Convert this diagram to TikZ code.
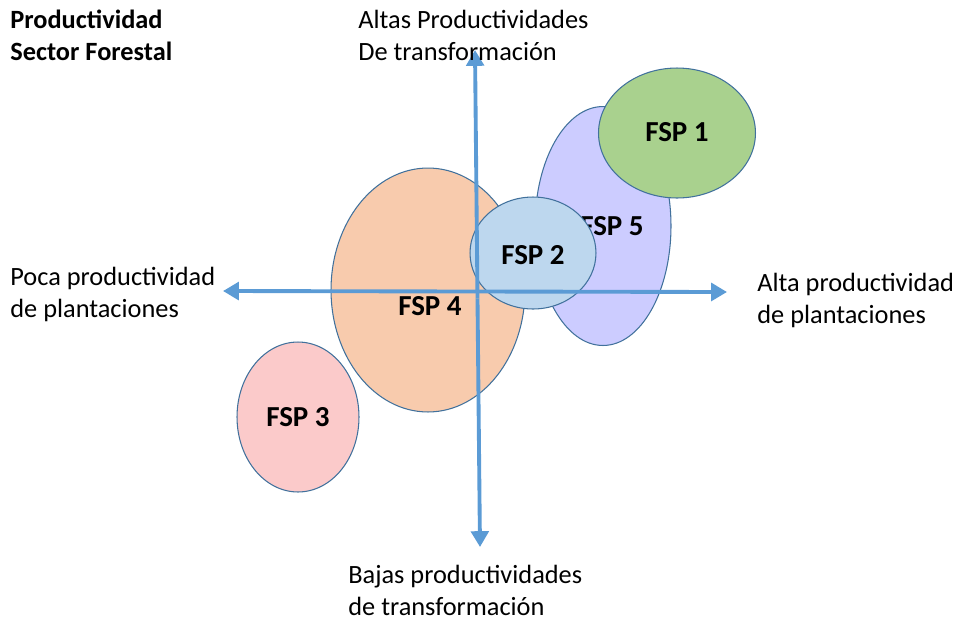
\documentclass[tikz,border=0pt]{standalone}
\usepackage{fontspec}
\setmainfont{Carlito}
\usetikzlibrary{shapes.geometric,arrows.meta}

\definecolor{axisblue}{HTML}{5B9BD5}
\definecolor{rimblue}{HTML}{41719C}
\definecolor{fspgreen}{HTML}{A9D18E}
\definecolor{fsplilac}{HTML}{CCCCFF}
\definecolor{fspsky}{HTML}{BDD7EE}
\definecolor{fsppeach}{HTML}{F8CBAD}
\definecolor{fsprose}{HTML}{FBCACA}

\begin{document}
\begin{tikzpicture}[x=0.02cm,y=-0.02cm,
font=\fontsize{15}{18}\selectfont,
blob/.style={ellipse, draw=rimblue, line width=0.6pt, inner sep=0pt},
blobtext/.style={font=\fontsize{16.5}{19}\selectfont\bfseries},
axis/.style={draw=axisblue, line width=2.2pt, -{Triangle[length=9pt,width=10pt]}},
caption/.style={align=left, anchor=north west, inner sep=0pt}
]
        \useasboundingbox (0,0) rectangle (965,620);

        % groups
        \node [blob, fill=fsplilac, minimum width=2.72cm, minimum height=4.78cm] (fsp5) at (603,226) {};
        \node [blobtext] (t5) at (612,226) {FSP 5};
        \node [blob, fill=fspgreen, minimum width=3.14cm, minimum height=2.6cm] (fsp1) at (677,133) {};
        \node [blobtext] (t1) at (677,132) {FSP 1};
        \node [blob, fill=fsppeach, minimum width=3.88cm, minimum height=4.88cm] (fsp4) at (428,290) {};
        \node [blobtext] (t4) at (430,306) {FSP 4};
        \node [blob, fill=fspsky, minimum width=2.52cm, minimum height=2.24cm] (fsp2) at (533,253) {};
        \node [blobtext] (t2) at (533,255) {FSP 2};
        \node [blob, fill=fsprose, minimum width=2.44cm, minimum height=3.0cm] (fsp3) at (298,417) {};
        \node [blobtext] (t3) at (298,417) {FSP 3};

        % axes
        \coordinate (top) at (475,50);
        \coordinate (bottom) at (480,547);
        \coordinate (left) at (223,291);
        \coordinate (right) at (727,292);
        \coordinate (vmid) at (477.5,298.5);
        \coordinate (hmid) at (475,291.5);
        \draw [axis] (vmid) -- (top);
        \draw [axis] (vmid) -- (bottom);
        \draw [axis] (hmid) -- (left);
        \draw [axis] (hmid) -- (right);

        % captions
        \node [caption, font=\fontsize{15}{18}\selectfont\bfseries] (title) at (10,10) {Productividad\\Sector Forestal};
        \node [caption] (high) at (358,10) {Altas Productividades\\De transformación};
        \node [caption] (low) at (348,565) {Bajas productividades\\de transformación};
        \node [caption] (poor) at (10,267) {Poca productividad\\de plantaciones};
        \node [caption] (rich) at (757,273) {Alta productividad\\de plantaciones};

 \end{tikzpicture}
\end{document}
